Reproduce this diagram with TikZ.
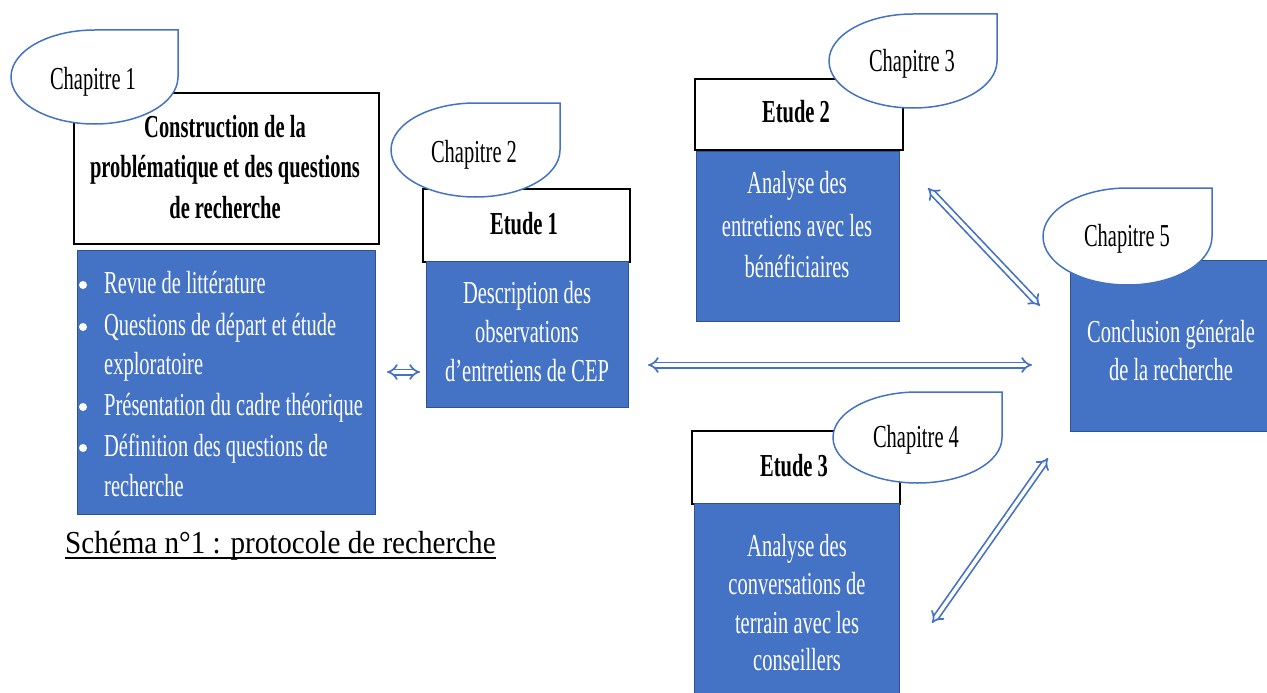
\documentclass[tikz,border=0pt]{standalone}
\usepackage{fontspec}
\setmainfont{Liberation Serif}
\newfontfamily\condfont[FakeStretch=0.64]{Liberation Serif}
\newfontfamily\capfont[FakeStretch=0.91]{Liberation Serif}
\usetikzlibrary{arrows.meta}
\definecolor{boxblue}{RGB}{68,114,196}
\definecolor{edgeblue}{RGB}{47,82,143}
\newcommand{\mybubble}[4]{%
  \pgfmathsetmacro{\bcx}{(#1+#3)/2}\pgfmathsetmacro{\bcy}{(#2+#4)/2}%
  \pgfmathsetmacro{\bkx}{0.5523*(#3-#1)/2}\pgfmathsetmacro{\bky}{0.5523*(#4-#2)/2}%
  \draw[bubblestyle] (\bcx,#2) -- (#3,#2) -- (#3,\bcy)
    .. controls (#3,\bcy+\bky) and (\bcx+\bkx,#4) .. (\bcx,#4)
    .. controls (\bcx-\bkx,#4) and (#1,\bcy+\bky) .. (#1,\bcy)
    .. controls (#1,\bcy-\bky) and (\bcx-\bkx,#2) .. cycle;}
\begin{document}
\begin{tikzpicture}[x=1pt,y=-1pt,
  titlebox/.style={draw=black, line width=1.8pt, fill=white, anchor=north west, inner sep=0},
  bluebox/.style={draw=edgeblue, line width=1pt, fill=boxblue, anchor=north west, inner sep=0},
  bubblestyle/.style={draw=boxblue, line width=1.5pt, fill=white},
  chap/.style={anchor=base, inner sep=0, font=\condfont\fontsize{32}{38}\selectfont, text=black},
  ttl/.style={anchor=base, inner sep=0, font=\condfont\bfseries\fontsize{32}{38}\selectfont, text=black},
  wtxt/.style={anchor=base, inner sep=0, font=\condfont\fontsize{32}{38}\selectfont, text=white},
  btxt/.style={anchor=base west, inner sep=0, font=\condfont\fontsize{32}{38}\selectfont, text=white},
  dblarrow/.style={draw=boxblue, line width=1.7pt, double=white, double distance=3.6pt, {Implies}-{Implies}}
]
\useasboundingbox (0,0) rectangle (1267,693);
\fill[white] (0,0) rectangle (1267,693);

% boxes
\node[titlebox, minimum width=305pt, minimum height=151pt] (tb1) at (73,92) {};
\node[bluebox, minimum width=298pt, minimum height=264pt] (bb1) at (77,250) {};
\node[titlebox, minimum width=207pt, minimum height=73pt] (tb2) at (422,188) {};
\node[bluebox, minimum width=202pt, minimum height=146pt] (bb2) at (426,261) {};
\node[titlebox, minimum width=208pt, minimum height=71pt] (tb3) at (694,78) {};
\node[bluebox, minimum width=203pt, minimum height=170pt] (bb3) at (696,151) {};
\node[titlebox, minimum width=208pt, minimum height=73pt] (tb4) at (691,430) {};
\node[bluebox, minimum width=205pt, minimum height=200pt] (bb4) at (694,503) {};
\node[bluebox, minimum width=205pt, minimum height=171pt] (bb5) at (1070,260) {};

% bubbles
\mybubble{11}{30}{178}{124}
\mybubble{391}{103}{560}{197}
\mybubble{829}{14}{997}{108}
\mybubble{833}{392}{1002}{483}
\mybubble{1043}{188}{1212}{285}

\node[chap] (c1) at (93,89) {Chapitre 1};
\node[chap] (c2) at (474,162) {Chapitre 2};
\node[chap] (c3) at (912,72) {Chapitre 3};
\node[chap] (c4) at (916,447) {Chapitre 4};
\node[chap] (c5) at (1127,246) {Chapitre 5};

% title texts
\node[ttl] (t1a) at (225,137) {Construction de la};
\node[ttl] (t1b) at (225,177) {problématique et des questions};
\node[ttl] (t1c) at (225,218) {de recherche};
\node[ttl] (t2) at (524,234) {Etude 1};
\node[ttl] (t3) at (796,122) {Etude 2};
\node[ttl] (t4) at (794,476) {Etude 3};

% bullets
\foreach \yy in {293,335,415,456} {\fill[white] (83,\yy-8) circle[radius=4pt];}
\node[btxt] (l1) at (104,293) {Revue de littérature};
\node[btxt] (l2) at (104,335) {Questions de départ et étude};
\node[btxt] (l3) at (104,374) {exploratoire};
\node[btxt] (l4) at (104,415) {Présentation du cadre théorique};
\node[btxt] (l5) at (104,456) {Définition des questions de};
\node[btxt] (l6) at (104,496) {recherche};

% blue box texts
\node[wtxt] (e1a) at (527,303) {Description des};
\node[wtxt] (e1b) at (527,342) {observations};
\node[wtxt] (e1c) at (527,381) {d’entretiens de CEP};
\node[wtxt] (e2a) at (797,193) {Analyse des};
\node[wtxt] (e2b) at (797,236) {entretiens avec les};
\node[wtxt] (e2c) at (797,277) {bénéficiaires};
\node[wtxt] (e3a) at (797,556) {Analyse des};
\node[wtxt] (e3b) at (797,594) {conversations de};
\node[wtxt] (e3c) at (797,633) {terrain avec les};
\node[wtxt] (e3d) at (797,670) {conseillers};
\node[wtxt] (e5a) at (1171,342) {Conclusion générale};
\node[wtxt] (e5b) at (1171,380) {de la recherche};

% caption
\node[anchor=base west, inner sep=0, font=\capfont\fontsize{32}{38}\selectfont] (cap) at (65,553) {Schéma n°1 : protocole de recherche};
\draw[line width=2pt] ([yshift=-5pt]cap.base west) -- ([yshift=-5pt]cap.base east);

% arrows
\coordinate (s1) at (387,372); \coordinate (s2) at (420,372);
\coordinate (h1) at (648,365); \coordinate (h2) at (1032,365);
\coordinate (d1) at (928,188); \coordinate (d2) at (1040,306);
\coordinate (f1) at (932,623); \coordinate (f2) at (1048,458);
\draw[dblarrow] (s1) -- (s2);
\draw[dblarrow] (h1) -- (h2);
\draw[dblarrow] (d1) -- (d2);
\draw[dblarrow] (f1) -- (f2);
\end{tikzpicture}
\end{document}
